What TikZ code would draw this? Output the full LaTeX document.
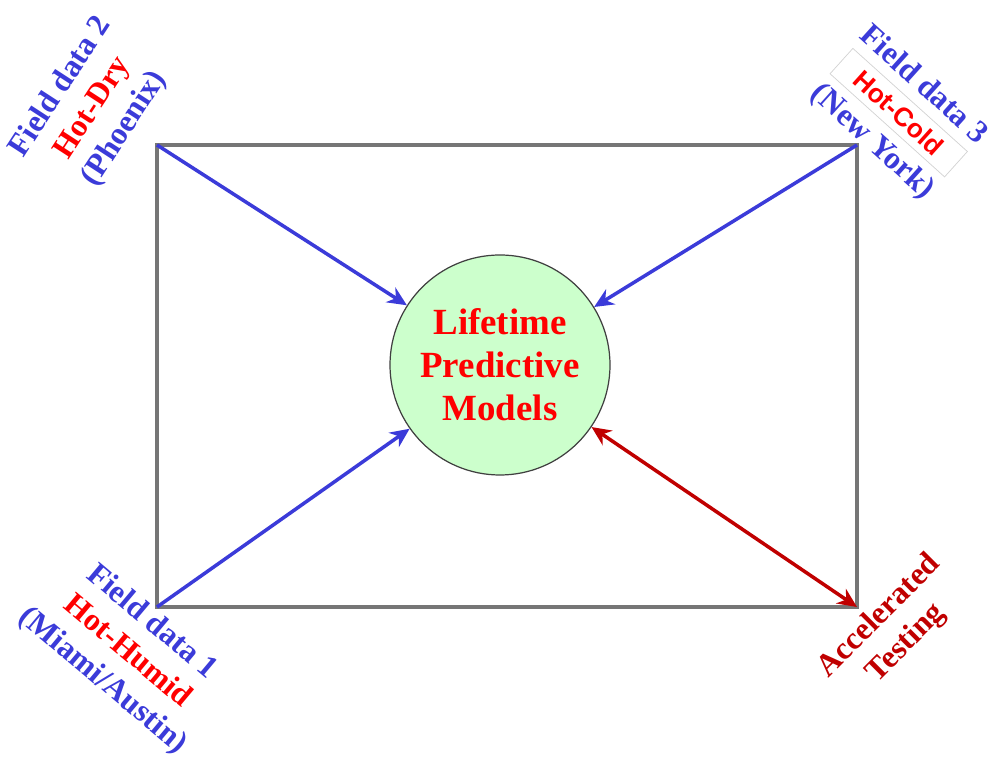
\documentclass[tikz,border=0pt]{standalone}
\usepackage{fontspec}
\setmainfont{Liberation Serif}
\newfontfamily\hotcoldfont{Liberation Sans}
\usepackage{tikz}
\usetikzlibrary{arrows.meta, positioning, calc}
\usepackage{xcolor}
\definecolor{fieldblue}{HTML}{3B3BD9}
\definecolor{hotred}{HTML}{FF0000}
\definecolor{testred}{HTML}{C00000}
\definecolor{modelgreen}{HTML}{CCFFCC}
\definecolor{framegray}{HTML}{767676}

\begin{document}
\begin{tikzpicture}[>={Stealth[length=11pt,width=10pt]},
  sitelabel/.style={align=center, font=\fontsize{18}{21.6}\selectfont\bfseries, text=fieldblue},
  feedarrow/.style={->, line width=2pt, fieldblue}]
  \useasboundingbox (0, 0) rectangle (19.8, 15.3);

  % Frame and corners
  \coordinate (tl) at (3.14, 12.4);
  \coordinate (tr) at (17.14, 12.4);
  \coordinate (bl) at (3.14, 3.16);
  \coordinate (br) at (17.14, 3.16);
  \draw[framegray, line width=1.8pt] (tl) rectangle (br);

  % Central model
  \node[circle, draw=black!75, line width=0.7pt, fill=modelgreen,
    minimum size=4.4cm, align=center, text=hotred,
    font=\fontsize{21}{24.5}\selectfont\bfseries] (models) at (10.0, 8.0)
    {Lifetime\\Predictive\\Models};

  % Field data arrows
  \draw[feedarrow] (tl) -- (models);
  \draw[feedarrow] (tr) -- (models);
  \draw[feedarrow] (bl) -- (models);
  \draw[<->, line width=2pt, testred] (models) -- (br);

  % Corner labels
  \node[sitelabel, rotate=57] (fd2) at (1.86, 13.14)
    {Field data 2\\{\color{hotred}Hot-Dry}\\(Phoenix)};
  \node[sitelabel, rotate=-42] (fd3) at (17.95, 13.02)
    {Field data 3\\{\setlength{\fboxrule}{0.4pt}\setlength{\fboxsep}{4pt}%
      \fcolorbox{gray!35}{white}{\hspace{8pt}\hotcoldfont\fontsize{15}{18}\selectfont\color{hotred}Hot-Cold\hspace{8pt}}}\\(New York)};
  \node[sitelabel, rotate=-40] (fd1) at (2.54, 2.26)
    {Field data 1\\{\color{hotred}Hot-Humid}\\(Miami/Austin)};
  \node[sitelabel, text=testred, rotate=45] (acc) at (17.86, 2.7)
    {Accelerated\\Testing};
\end{tikzpicture}
\end{document}
